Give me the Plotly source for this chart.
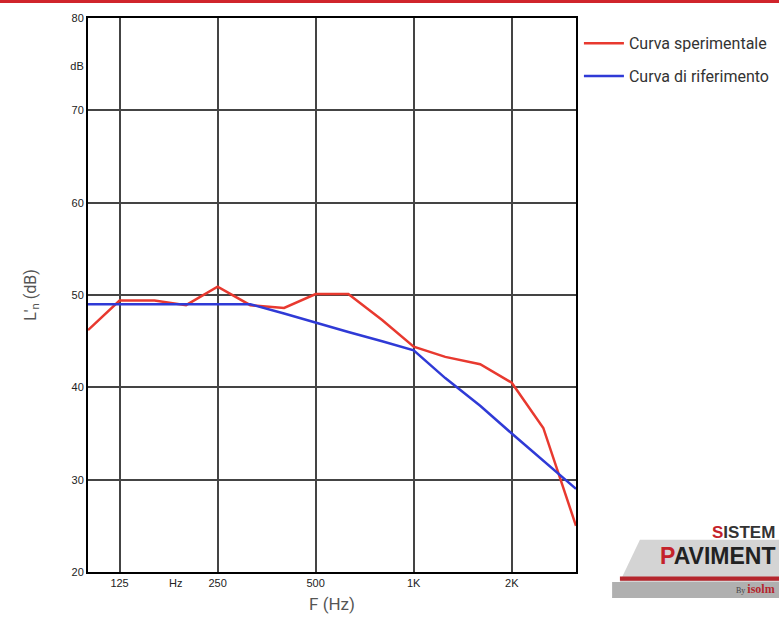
import plotly.graph_objects as go

freqs = [100, 125, 160, 200, 250, 315, 400, 500, 630, 800, 1000, 1250, 1600, 2000, 2500, 3150]
curva_sperimentale = [46.2, 49.4, 49.4, 48.9, 50.9, 48.9, 48.6, 50.1, 50.1, 47.3, 44.4, 43.3, 42.5, 40.5, 35.6, 25.0]
curva_riferimento = [49, 49, 49, 49, 49, 49, 48, 47, 46, 45, 44, 41, 38, 35, 32, 29]

x_grid = [125, 250, 500, 1000, 2000]
x_tick_vals = [125, 186, 250, 500, 1000, 2000]
x_tick_text = ["125", "Hz", "250", "500", "1K", "2K"]
y_grid = [30, 40, 50, 60, 70]
y_tick_vals = [20, 30, 40, 50, 60, 70, 74.8, 80]
y_tick_text = ["20", "30", "40", "50", "60", "70", "dB", "80"]

NARROW = "Roboto, Liberation Sans, sans-serif"
TICKF = "Liberation Sans, Arial, sans-serif"

fig = go.Figure()
fig.add_trace(go.Scatter(x=freqs, y=curva_sperimentale, mode="lines", name="Curva sperimentale",
                         line=dict(color="#e8392f", width=2.5), legendgroup="a"))
fig.add_trace(go.Scatter(x=freqs, y=curva_riferimento, mode="lines", name="Curva di riferimento",
                         line=dict(color="#2f3ad6", width=2.5), legendgroup="b"))

fig.update_layout(
    width=779, height=617,
    margin=dict(l=88, r=203, t=18, b=45, autoexpand=False),
    paper_bgcolor="white", plot_bgcolor="white",
    showlegend=True,
    legend=dict(x=1.006, xanchor="left", y=0.985, yanchor="top",
                font=dict(family=NARROW, size=16, color="#333"),
                tracegroupgap=9, itemwidth=40, bgcolor="rgba(0,0,0,0)"),
    xaxis=dict(type="log", range=[2.0, 3.4983], showgrid=False,
               tickvals=x_tick_vals, ticktext=x_tick_text, ticks="",
               tickfont=dict(family=TICKF, size=11, color="#222"),
               showline=True, linecolor="black", linewidth=2, mirror=True,
               minor=dict(tickvals=x_grid, showgrid=True, gridcolor="#444", gridwidth=2, ticks=""),
               title=dict(text="F (Hz)", font=dict(family=NARROW, size=17, color="#555"), standoff=10),
               zeroline=False),
    yaxis=dict(range=[20, 80], showgrid=False,
               tickvals=y_tick_vals, ticktext=y_tick_text, ticks="",
               tickfont=dict(family=TICKF, size=11, color="#222"),
               showline=True, linecolor="black", linewidth=2, mirror=True,
               minor=dict(tickvals=y_grid, showgrid=True, gridcolor="#444", gridwidth=2, ticks=""),
               title=dict(text="L'<sub>n</sub> (dB)", font=dict(family=NARROW, size=16, color="#555"), standoff=30),
               zeroline=False),
)

# top red band
fig.add_shape(type="rect", xref="paper", yref="paper", x0=-0.2, x1=1.5, y0=1.027, y1=1.04,
              fillcolor="#d0242b", line_width=0, layer="above")

# logo approximation (bottom right)
fig.add_shape(type="path", xref="paper", yref="paper",
              path="M 1.074 -0.047 L 1.45 -0.047 L 1.45 0.058 L 1.131 0.058 Z",
              fillcolor="#d4d4d4", line_width=0)
fig.add_shape(type="rect", xref="paper", yref="paper", x0=1.074, x1=1.45, y0=-0.047, y1=-0.018,
              fillcolor="#b0b0b0", line_width=0)
fig.add_shape(type="rect", xref="paper", yref="paper", x0=1.09, x1=1.45, y0=-0.016, y1=-0.008,
              fillcolor="#b5262d", line_width=0)
fig.add_annotation(xref="paper", yref="paper", x=1.412, y=0.071, xanchor="right", yanchor="middle",
                   text="<b><span style='color:#c4222a'>S</span>ISTEM</b>", showarrow=False,
                   font=dict(family="Liberation Sans", size=17, color="#333"))
fig.add_annotation(xref="paper", yref="paper", x=1.412, y=0.028, xanchor="right", yanchor="middle",
                   text="<b><span style='color:#c4222a'>P</span>AVIMENT</b>", showarrow=False,
                   font=dict(family="Liberation Sans", size=23, color="#222"))
fig.add_annotation(xref="paper", yref="paper", x=1.412, y=-0.031, xanchor="right", yanchor="middle",
                   text="<span style='font-size:8px;color:#444'>By </span><b>isolm</b>", showarrow=False,
                   font=dict(family="Liberation Serif, serif", size=12, color="#b5262d"))

fig.write_html("out.html")
